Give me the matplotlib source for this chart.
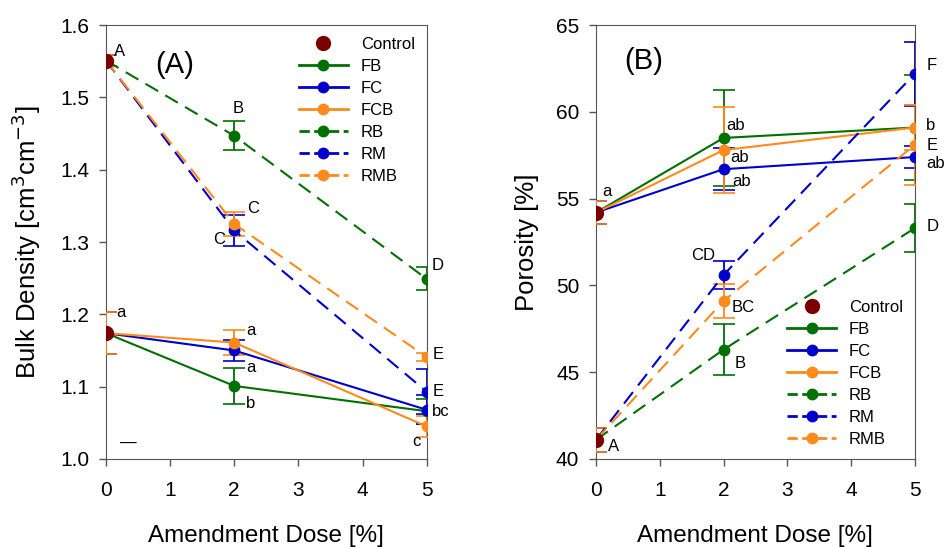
"""
Bulk density and porosity vs amendment dose.
"""
import matplotlib
matplotlib.use('Agg')
import matplotlib.pyplot as plt
from matplotlib.lines import Line2D

plt.rcParams['font.family'] = ['Liberation Sans', 'DejaVu Sans']

doses = [0, 2, 5]
series = ['FB', 'FC', 'FCB', 'RB', 'RM', 'RMB']
colors = {'FB': '#007000', 'FC': '#0000CC', 'FCB': '#FF8A1C',
          'RB': '#007000', 'RM': '#0000CC', 'RMB': '#FF8A1C'}
styles = {'FB': '-', 'FC': '-', 'FCB': '-', 'RB': '--', 'RM': '--', 'RMB': '--'}
control_color = '#7A0000'

# (A) bulk density [cm3 cm-3]
bd_mean = {
    'FB':  [1.174, 1.101, 1.066],
    'FC':  [1.174, 1.150, 1.068],
    'FCB': [1.174, 1.161, 1.045],
    'RB':  [1.551, 1.447, 1.249],
    'RM':  [1.551, 1.316, 1.093],
    'RMB': [1.551, 1.325, 1.141],
}
bd_err = {
    'FB':  [0.029, 0.025, 0.017],
    'FC':  [0.029, 0.015, 0.020],
    'FCB': [0.029, 0.017, 0.014],
    'RB':  [0.008, 0.020, 0.016],
    'RM':  [0.008, 0.022, 0.031],
    'RMB': [0.008, 0.016, 0.005],
}
bd_control = [1.174, 1.551]
bd_labels = [
    (0.13, 1.563, 'A'), (1.97, 1.485, 'B'), (2.2, 1.347, 'C'), (1.67, 1.303, 'C'),
    (5.08, 1.268, 'D'), (0.16, 1.203, 'a'), (2.18, 1.178, 'a'), (2.18, 1.126, 'a'),
    (2.18, 1.077, 'b'), (5.1, 1.144, 'E'), (5.1, 1.093, 'E'), (5.08, 1.065, 'bc'),
    (4.77, 1.024, 'c'), (0.22, 1.022, '\u2014'),
]

# (B) porosity [%]
po_mean = {
    'FB':  [54.2, 58.5, 59.1],
    'FC':  [54.2, 56.7, 57.4],
    'FCB': [54.2, 57.8, 59.1],
    'RB':  [41.1, 46.3, 53.3],
    'RM':  [41.1, 50.6, 62.2],
    'RMB': [41.1, 49.1, 58.1],
}
po_err = {
    'FB':  [0.65, 2.75, 3.05],
    'FC':  [0.65, 1.20, 0.65],
    'FCB': [0.65, 2.50, 1.30],
    'RB':  [0.70, 1.47, 1.40],
    'RM':  [0.70, 0.80, 1.85],
    'RMB': [0.70, 1.00, 2.30],
}
po_control = [54.2, 41.1]
po_labels = [
    (0.1, 55.4, 'a'), (0.19, 40.7, 'A'), (2.04, 59.2, 'ab'), (2.1, 57.4, 'ab'),
    (2.13, 56.0, 'ab'), (5.18, 62.7, 'F'), (5.18, 59.2, 'b'), (5.18, 58.05, 'E'),
    (5.18, 57.0, 'ab'), (5.18, 53.4, 'D'), (1.5, 51.75, 'CD'), (2.13, 48.7, 'BC'),
    (2.18, 45.5, 'B'),
]


def draw_panel(ax, means, errs, control, labels, ylim, yticks, ylabel, tag, tag_pos, legend_loc):
    for name in series:
        ax.errorbar(doses, means[name], yerr=errs[name], color=colors[name],
                    linestyle=styles[name], dashes=(7, 4) if styles[name] == '--' else (None, None),
                    linewidth=1.5, marker='o', markersize=7.5, capsize=8, capthick=1.2,
                    elinewidth=1.3, zorder=3)
    ax.plot([0] * len(control), control, 'o', color=control_color, markersize=10, zorder=5)

    for x, y, s in labels:
        ax.text(x, y, s, fontsize=12, ha='left', va='center', zorder=6)

    ax.text(tag_pos[0], tag_pos[1], tag, fontsize=21, transform=ax.transAxes)
    ax.set_xlim(0, 5)
    ax.set_ylim(*ylim)
    ax.set_xticks(range(6))
    ax.set_yticks(yticks)
    ax.tick_params(direction='out', length=5, width=1, labelsize=15, color='#555555')
    ax.tick_params(axis='x', pad=11)
    ax.tick_params(axis='y', pad=7)
    for sp in ax.spines.values():
        sp.set_color('#555555')
    ax.set_xlabel('Amendment Dose [%]', fontsize=17.5, labelpad=18)
    ax.set_ylabel(ylabel, fontsize=18.5, labelpad=12)

    handles = [Line2D([], [], color=control_color, marker='o', markersize=10, linestyle='none')]
    for name in series:
        handles.append(Line2D([], [], color=colors[name], marker='o', markersize=7.5,
                              linestyle=styles[name], linewidth=2))
    ax.legend(handles, ['Control'] + series, loc=legend_loc, frameon=False, fontsize=12,
              handlelength=2.9, labelspacing=0.42, handletextpad=0.8, borderaxespad=0.3)


fig = plt.figure(figsize=(9.46, 5.47), dpi=100)
ax_a = fig.add_axes([0.112, 0.161, 0.339, 0.793])
ax_b = fig.add_axes([0.630, 0.161, 0.337, 0.793])

draw_panel(ax_a, bd_mean, bd_err, bd_control, bd_labels, (1.0, 1.6),
           [1.0, 1.1, 1.2, 1.3, 1.4, 1.5, 1.6], 'Bulk Density [cm$^{3}$cm$^{-3}$]',
           '(A)', (0.155, 0.89), 'upper right')
draw_panel(ax_b, po_mean, po_err, po_control, po_labels, (40, 65),
           [40, 45, 50, 55, 60, 65], 'Porosity [%]',
           '(B)', (0.09, 0.90), 'lower right')

fig.savefig('out.png', dpi=100)
